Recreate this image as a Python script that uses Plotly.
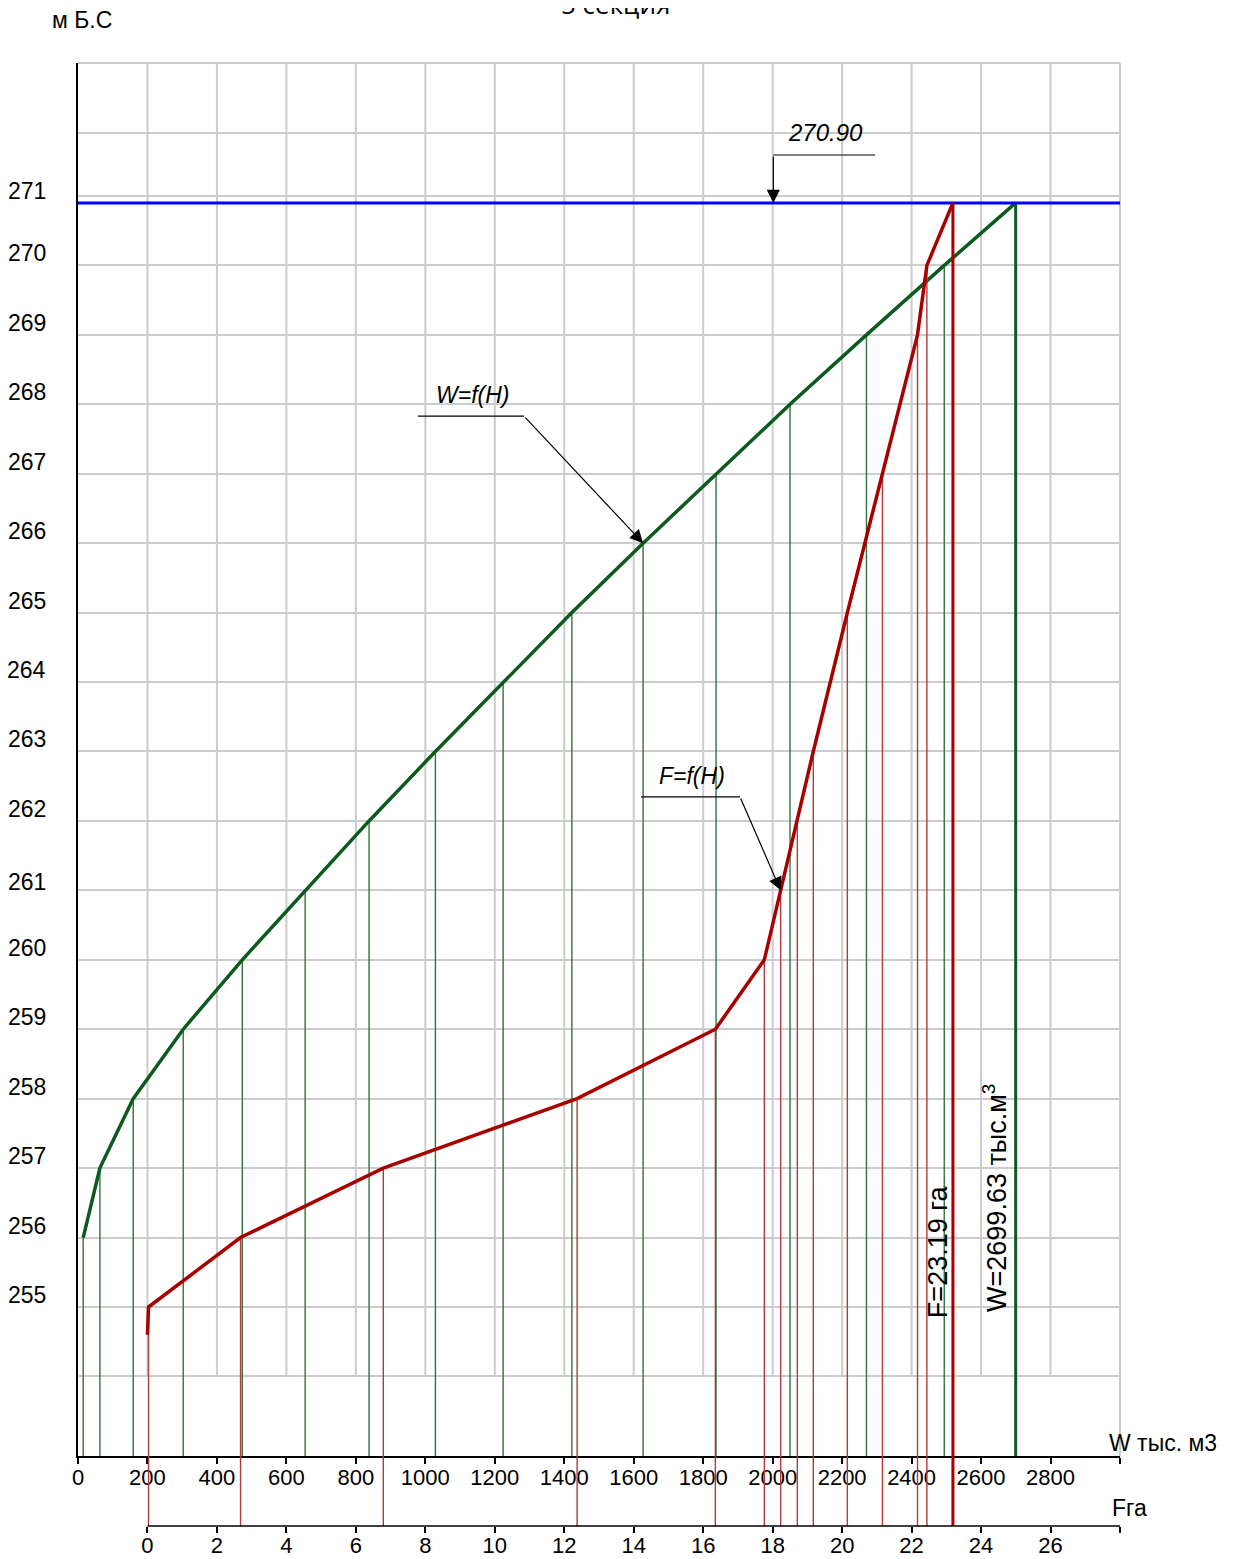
import plotly.graph_objects as go

# ---------------- data ----------------
H_W = [256, 257, 258, 259, 260, 261, 262, 263, 264, 265, 266, 267, 268, 269, 270, 270.9]
W_VALUES = [15, 63, 159, 303, 473, 654, 838, 1029, 1224, 1422, 1627, 1837, 2050, 2270, 2494, 2699.63]

H_F = [254.6, 255, 256, 257, 258, 259, 260, 261, 262, 263, 265, 267, 269, 270, 270.9]
F_VALUES = [0.0, 0.03, 2.68, 6.79, 12.37, 16.35, 17.76, 18.23, 18.71, 19.17, 20.15, 21.16, 22.17, 22.44, 23.19]

H_NPU = 270.90
W_TOTAL = 2699.63
F_TOTAL = 23.19

W_TICKS = list(range(0, 3001, 200))
W_TICK_LABELS = [str(v) for v in range(0, 2801, 200)] + [""]
F_TICKS = list(range(0, 29, 2))
F_TICK_LABELS = [str(v) for v in range(0, 27, 2)] + [""]
H_LABELS = list(range(255, 272))
H_GRID = list(range(254, 272)) + [271.9]

# ---------------- layout constants ----------------
Y_BOT, Y_TOP = 252.854, 272.915
W_RANGE = [0, 3000]
F_RANGE = [-2, 28]
D = 70 / 1463.0  # domain share of the band between W axis and F axis

SANS = "Liberation Sans, Arial, sans-serif"
GRID = "#cccccc"
GREEN = "#0c5a1e"
GREEN_THIN = "#2f7440"
RED = "#a80000"
RED_THIN = "#b33a3a"

fig = go.Figure()

# green verticals (thin)
gx, gy = [], []
for w, h in zip(W_VALUES[:-1], H_W[:-1]):
    gx += [w, w, None]
    gy += [h, Y_BOT, None]
fig.add_trace(go.Scatter(x=gx, y=gy, mode="lines", line=dict(color=GREEN_THIN, width=1.4),
                         xaxis="x", yaxis="y", hoverinfo="skip", showlegend=False))
fig.add_trace(go.Scatter(x=[W_VALUES[-1], W_VALUES[-1]], y=[H_W[-1], Y_BOT], mode="lines",
                         line=dict(color=GREEN, width=3), xaxis="x", yaxis="y",
                         hoverinfo="skip", showlegend=False))

# red verticals (thin) in main plot and in the band down to the F axis
rx, ry, bx, by = [], [], [], []
for f, h in zip(F_VALUES[1:-1], H_F[1:-1]):
    rx += [f, f, None]
    ry += [h, Y_BOT, None]
    bx += [f, f, None]
    by += [1, 0, None]
fig.add_trace(go.Scatter(x=rx, y=ry, mode="lines", line=dict(color=RED_THIN, width=1.4),
                         xaxis="x3", yaxis="y", hoverinfo="skip", showlegend=False))
fig.add_trace(go.Scatter(x=bx, y=by, mode="lines", line=dict(color=RED_THIN, width=1.4),
                         xaxis="x2", yaxis="y2", hoverinfo="skip", showlegend=False))
fig.add_trace(go.Scatter(x=[F_VALUES[-1], F_VALUES[-1]], y=[H_F[-1], Y_BOT], mode="lines",
                         line=dict(color=RED, width=3), xaxis="x3", yaxis="y",
                         hoverinfo="skip", showlegend=False))
fig.add_trace(go.Scatter(x=[F_VALUES[-1], F_VALUES[-1]], y=[1, 0], mode="lines",
                         line=dict(color=RED, width=3), xaxis="x2", yaxis="y2",
                         hoverinfo="skip", showlegend=False))

# curves
fig.add_trace(go.Scatter(x=W_VALUES, y=H_W, mode="lines", line=dict(color=GREEN, width=3.5),
                         xaxis="x", yaxis="y", hoverinfo="skip", showlegend=False))
fig.add_trace(go.Scatter(x=F_VALUES, y=H_F, mode="lines", line=dict(color=RED, width=3.5),
                         xaxis="x3", yaxis="y", hoverinfo="skip", showlegend=False))

# НПУ line
fig.add_trace(go.Scatter(x=W_RANGE, y=[H_NPU, H_NPU], mode="lines", line=dict(color="#0000ff", width=3),
                         xaxis="x", yaxis="y", hoverinfo="skip", showlegend=False))

shapes = []
# vertical grid
for v in range(200, 3000, 200):
    shapes.append(dict(type="line", xref="x", yref="y", x0=v, x1=v, y0=254, y1=Y_TOP,
                       line=dict(color=GRID, width=2), layer="below"))
# top and right borders
shapes.append(dict(type="line", xref="paper", yref="y domain", x0=0, x1=1, y0=1, y1=1,
                   line=dict(color=GRID, width=2), layer="below"))
shapes.append(dict(type="line", xref="x domain", yref="y domain", x0=1, x1=1, y0=0, y1=1,
                   line=dict(color=GRID, width=2), layer="below"))
# F axis line
shapes.append(dict(type="line", xref="x2", yref="y2 domain", x0=0, x1=28, y0=0, y1=0,
                   line=dict(color="black", width=1.5)))
# leader lines
shapes.append(dict(type="line", xref="x", yref="y", x0=979, x1=1284, y0=267.83, y1=267.83,
                   line=dict(color="black", width=1.2)))
shapes.append(dict(type="line", xref="x", yref="y", x0=1621, x1=1906, y0=262.345, y1=262.345,
                   line=dict(color="black", width=1.2)))
shapes.append(dict(type="line", xref="x", yref="y", x0=2002, x1=2295, y0=271.59, y1=271.59,
                   line=dict(color="black", width=1.2)))

annotations = []
# y labels
for h in H_LABELS:
    shift = 12
    if h == 271:
        shift = 5
    elif h == 261:
        shift = 8
    annotations.append(dict(text=str(h), xref="paper", yref="y", x=0, y=h, xanchor="right",
                            yanchor="middle", xshift=-30, yshift=shift, showarrow=False,
                            font=dict(family=SANS, size=23, color="black")))
# arrows
arrow_common = dict(text="", showarrow=True, arrowhead=2, arrowsize=2.2, arrowwidth=1.2,
                    arrowcolor="black", standoff=0)
annotations.append(dict(x=1627, y=266, xref="x", yref="y", ax=1284, ay=267.83,
                        axref="x", ayref="y", **arrow_common))
annotations.append(dict(x=18.23, y=261, xref="x3", yref="y", ax=17.06, ay=262.345,
                        axref="x3", ayref="y", **arrow_common))
annotations.append(dict(x=2002, y=H_NPU, xref="x", yref="y", ax=2002, ay=271.59,
                        axref="x", ayref="y", **arrow_common))
# labels
ital = dict(family=SANS, size=23, color="black", style="italic")
annotations.append(dict(text="W=f(H)", x=1137, y=268.13, xref="x", yref="y", showarrow=False, font=ital))
annotations.append(dict(text="F=f(H)", x=1768, y=262.65, xref="x", yref="y", showarrow=False, font=ital))
annotations.append(dict(text="270.90", x=2151, y=271.907, xref="x", yref="y", showarrow=False,
                        font=dict(family=SANS, size=24, color="black", style="italic")))
annotations.append(dict(text="F=23.19 га", x=2476, y=255.79, xref="x", yref="y", showarrow=False,
                        textangle=-90, font=dict(family=SANS, size=27, color="black")))
annotations.append(dict(text="W=2699.63 тыс.м<sup>3</sup>", x=2640, y=256.57, xref="x", yref="y",
                        showarrow=False, textangle=-90, font=dict(family=SANS, size=27, color="black")))
annotations.append(dict(text="W тыс. м3", x=2963, y=253.04, xref="x", yref="y", xanchor="left",
                        showarrow=False, font=dict(family=SANS, size=23, color="black")))
annotations.append(dict(text="Fга", x=2971, y=0.26, xref="x", yref="y2", xanchor="left",
                        showarrow=False, font=dict(family=SANS, size=23, color="black")))
annotations.append(dict(text="м Б.С", x=0, y=1, xref="paper", yref="paper", xanchor="left",
                        yanchor="middle", xshift=-28, yshift=43, showarrow=False,
                        font=dict(family=SANS, size=23, color="black")))
annotations.append(dict(text="5 секция", x=0.516, y=1, xref="paper", yref="paper", xanchor="center",
                        yanchor="bottom", yshift=39, showarrow=False,
                        font=dict(family="Open Sans, DejaVu Sans, sans-serif", size=26, color="black")))

tickfont = dict(family=SANS, size=22, color="black")
fig.update_layout(
    width=1225, height=1551,
    margin=dict(l=70, r=113, t=55, b=33, autoexpand=False),
    paper_bgcolor="white", plot_bgcolor="white",
    xaxis=dict(domain=[0, 1], range=W_RANGE, anchor="y", showgrid=False, zeroline=False,
               showline=True, linecolor="black", linewidth=1.5, ticks="outside", ticklen=6,
               tickcolor="black", tickwidth=1.5, tickvals=W_TICKS, ticktext=W_TICK_LABELS,
               tickfont=tickfont, automargin=False, ticklabelstandoff=-5),
    xaxis2=dict(domain=[0, 1], range=F_RANGE, anchor="y2", showgrid=False, zeroline=False,
                showline=False, ticks="outside", ticklen=6, tickcolor="black", tickwidth=1.5,
                tickvals=F_TICKS, ticktext=F_TICK_LABELS, tickfont=tickfont, automargin=False,
                ticklabelstandoff=-6),
    xaxis3=dict(domain=[0, 1], range=F_RANGE, anchor="y", overlaying="x", visible=False),
    yaxis=dict(domain=[D, 1], range=[Y_BOT, Y_TOP], anchor="x", showgrid=True, gridcolor=GRID,
               gridwidth=2, zeroline=False, showline=True, linecolor="black", linewidth=1.5,
               tickvals=H_GRID, showticklabels=False, ticks="", automargin=False),
    yaxis2=dict(domain=[0, D], range=[0, 1], anchor="x2", visible=False),
    shapes=shapes,
    annotations=annotations,
)

fig.write_html("out.html")
